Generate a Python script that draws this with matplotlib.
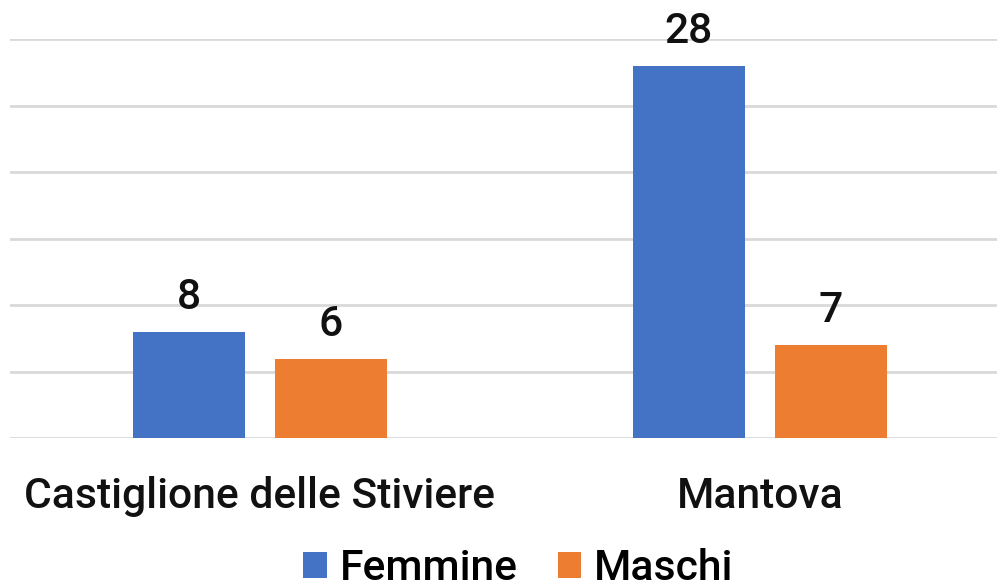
import numpy as np
import matplotlib.pyplot as plt

plt.rcParams['font.family'] = ['Roboto', 'DejaVu Sans']

categories = ['Castiglione delle Stiviere', 'Mantova']
femmine = [8, 28]
maschi = [6, 7]
series_names = ['Femmine', 'Maschi']
colors = ['#4472C4', '#ED7D31']

fs = 30.7

fig = plt.figure(figsize=(9.97, 5.82), dpi=100)
ax = fig.add_axes([10 / 997, 0.2466, 1000 / 997, 0.6864])

x = np.arange(len(categories))
w = 0.224
off = 0.142
b1 = ax.bar(x - off, femmine, w, color=colors[0], label=series_names[0], zorder=3)
b2 = ax.bar(x + off, maschi, w, color=colors[1], label=series_names[1], zorder=3)

for bars in (b1, b2):
    ax.bar_label(bars, padding=10, fontsize=fs, fontweight='medium', color='#111111')

ax.set_xlim(-0.5, 1.5)
ax.set_ylim(0, 30)
ax.set_yticks(np.arange(0, 31, 5))
ax.yaxis.grid(True, color='#d9d9d9', linewidth=2, zorder=0)
ax.set_axisbelow(True)
ax.tick_params(axis='y', left=False, labelleft=False)
ax.tick_params(axis='x', length=0, pad=27, labelsize=fs, labelcolor='#111111')
ax.set_xticks(x)
ax.set_xticklabels(categories, fontweight='medium')
for s in ax.spines.values():
    s.set_visible(False)

fig.legend(loc='lower center', bbox_to_anchor=(0.52, -0.078), ncol=2, frameon=False,
           prop={'size': fs, 'weight': 'medium'},
           handlelength=0.55, handleheight=0.55, handletextpad=0.3, columnspacing=0.95)

fig.savefig('out.png', dpi=100, facecolor='white')
